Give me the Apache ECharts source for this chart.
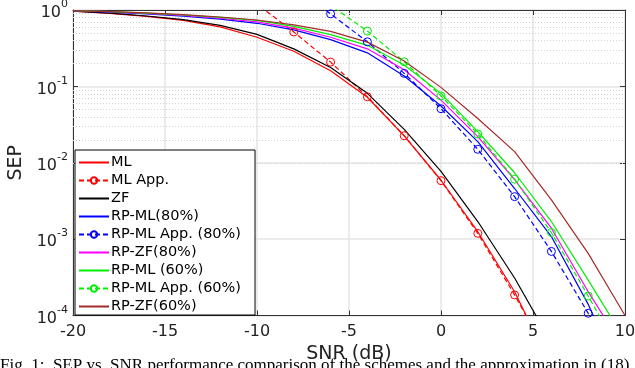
<!DOCTYPE html>
<html>
<head>
<meta charset="utf-8">
<script src="https://cdn.jsdelivr.net/npm/echarts@6/dist/echarts.min.js"></script>
<style>
  html, body { margin: 0; padding: 0; background: #fff; }
  #chart { width: 635px; height: 368px; }
</style>
</head>
<body>
<div id="chart"></div>
<script>
// SNR points (dB), every 2 dB
const snr = [-20, -18, -16, -14, -12, -10, -8, -6, -4, -2, 0, 2, 4, 6, 8, 10];

// SEP values
const ml       = [0.965, 0.905, 0.825, 0.73, 0.60, 0.44, 0.288, 0.16, 0.072, 0.0225, 0.0059, 0.00125, 2.05e-4, 2.1e-5, 1.4e-6, 6e-8];
const mlApp    = [null, null, null, null, 2.5, 1.2, 0.515, 0.208, 0.073, 0.0226, 0.00583, 0.00119, 1.86e-4, 2.5e-5, 2.5e-6, 2e-7];
const zf       = [0.965, 0.91, 0.835, 0.75, 0.63, 0.48, 0.31, 0.177, 0.081, 0.0274, 0.0077, 0.0017, 3.1e-4, 4.4e-5, 4.5e-6, 3.5e-7];
const rpMl80   = [0.975, 0.94, 0.89, 0.83, 0.76, 0.67, 0.55, 0.41, 0.275, 0.137, 0.0554, 0.0189, 0.0046, 0.00108, 1.4e-4, 1.2e-5];
const rpApp80  = [null, null, null, null, null, null, 2.0, 0.89, 0.383, 0.148, 0.051, 0.015, 0.0036, 6.9e-4, 1.07e-4, 1.2e-5];
const rpZf80   = [0.98, 0.95, 0.90, 0.85, 0.78, 0.70, 0.58, 0.44, 0.31, 0.165, 0.066, 0.022, 0.006, 0.00139, 2.05e-4, 3.5e-5];
const rpMl60   = [0.98, 0.95, 0.91, 0.86, 0.80, 0.73, 0.61, 0.475, 0.345, 0.19, 0.081, 0.0255, 0.0074, 0.0017, 2.9e-4, 4.8e-5];
const rpApp60  = [null, null, null, null, null, null, 2.3, 1.15, 0.53, 0.21, 0.0749, 0.0238, 0.00608, 0.00122, 1.8e-4, 2.5e-5];
const rpZf60   = [0.98, 0.955, 0.915, 0.87, 0.81, 0.74, 0.64, 0.526, 0.38, 0.215, 0.097, 0.038, 0.014, 0.00326, 6.5e-4, 1.0e-4];

const xTicks = [-20, -15, -10, -5, 0, 5, 10];

const FONT = 'DejaVu Sans';

// dotted minor grid lines at 2..9 x 10^k
const minorLines = [];
for (let k = -4; k < 0; k++) {
  for (let m = 2; m <= 9; m++) minorLines.push({ yAxis: m * Math.pow(10, k) });
}

function pairs(vals) {
  return snr.map((x, i) => [x, vals[i]]).filter(p => p[1] != null);
}

function curve(name, vals, color, dashed) {
  return {
    name,
    type: 'line',
    data: pairs(vals),
    color,
    clip: true,
    z: 3,
    symbol: dashed ? 'circle' : 'none',
    symbolSize: 8,
    showSymbol: dashed,
    lineStyle: { color, width: 1.2, type: dashed ? [5, 3] : 'solid' },
    // solid curves get an invisible legend marker
    itemStyle: { color: 'rgba(255,255,255,0)', borderColor: dashed ? color : 'rgba(255,255,255,0)', borderWidth: dashed ? 1 : 0 },
    emphasis: { disabled: true },
  };
}

const series = [
  curve('ML', ml, '#ff0000', false),
  curve('ML App.', mlApp, '#ff0000', true),
  curve('ZF', zf, '#000000', false),
  curve('RP-ML(80%)', rpMl80, '#0000ff', false),
  curve('RP-ML App. (80%)', rpApp80, '#0000ff', true),
  curve('RP-ZF(80%)', rpZf80, '#ff00ff', false),
  curve('RP-ML (60%)', rpMl60, '#00ee00', false),
  curve('RP-ML App. (60%)', rpApp60, '#00ee00', true),
  curve('RP-ZF(60%)', rpZf60, '#a52a2a', false),
];
const names = series.map(s => s.name);

series.unshift({
  name: 'minor-grid',
  type: 'line',
  data: [],
  z: 1,
  silent: true,
  markLine: {
    silent: true,
    z: 1,
    symbol: 'none',
    label: { show: false },
    lineStyle: { color: '#d4d4d4', width: 1, type: [1, 2] },
    data: minorLines,
  },
});

const chart = echarts.init(document.getElementById('chart'), null, { renderer: 'canvas' });

const axisLine = { show: true, onZero: false, lineStyle: { color: '#333', width: 1 } };
const tickIn = { show: true, inside: true, length: 5, lineStyle: { color: '#333' } };

chart.setOption({
  animation: false,
  backgroundColor: '#fff',
  grid: { left: 73, right: 10, top: 10, bottom: 52.5, containLabel: false, outerBoundsMode: 'none' },
  legend: {
    data: names,
    orient: 'vertical',
    left: 75,
    top: 150,
    itemWidth: 30,
    itemHeight: 8,
    itemGap: 3,
    padding: [5, 14, 1, 3],
    borderColor: '#000',
    borderWidth: 1,
    backgroundColor: '#fff',
    selectedMode: false,
    textStyle: { fontFamily: FONT, fontSize: 14.5, lineHeight: 15, color: '#000', padding: [0, 0, 0, -3] },
  },
  xAxis: [
    {
      type: 'value', min: -20, max: 10, interval: 5,
      name: 'SNR (dB)', nameLocation: 'middle', nameGap: 26,
      nameTextStyle: { fontFamily: FONT, fontSize: 19, color: '#222' },
      axisLine, axisTick: tickIn,
      axisLabel: {
        margin: 8, fontFamily: FONT, fontSize: 16, color: '#222',
        formatter: v => (xTicks.includes(v) ? String(v) : ''),
      },
      splitLine: { show: true, lineStyle: { color: '#e4e4e4', width: 1.5 } },
    },
    {
      type: 'value', min: -20, max: 10, interval: 5, position: 'top',
      axisLine, axisTick: tickIn, axisLabel: { show: false }, splitLine: { show: false },
    },
  ],
  yAxis: [
    {
      type: 'log', logBase: 10, min: 1e-4, max: 1,
      name: 'SEP', nameLocation: 'middle', nameGap: 43,
      nameTextStyle: { fontFamily: FONT, fontSize: 19, color: '#222' },
      axisLine, axisTick: tickIn,
      axisLabel: {
        margin: 5,
        formatter: v => '{b|10}{s|' + Math.round(Math.log10(v)) + '}',
        rich: {
          b: { fontFamily: FONT, fontSize: 16, color: '#222', lineHeight: 22, verticalAlign: 'bottom' },
          s: { fontFamily: FONT, fontSize: 11, color: '#222', lineHeight: 14, verticalAlign: 'top' },
        },
      },
      splitLine: { show: true, lineStyle: { color: '#e4e4e4', width: 1.5 } },
      minorTick: { show: false },
    },
    {
      type: 'log', logBase: 10, min: 1e-4, max: 1, position: 'right',
      axisLine, axisTick: tickIn, axisLabel: { show: false }, splitLine: { show: false },
    },
  ],
  graphic: [{
    type: 'text',
    left: 0,
    top: 357,
    style: {
      text: 'Fig. 1:  SEP vs. SNR performance comparison of the schemes and the approximation in (18), the',
      font: '17px "Liberation Serif"',
      fill: '#000',
    },
  }],
  series,
});
</script>
</body>
</html>
